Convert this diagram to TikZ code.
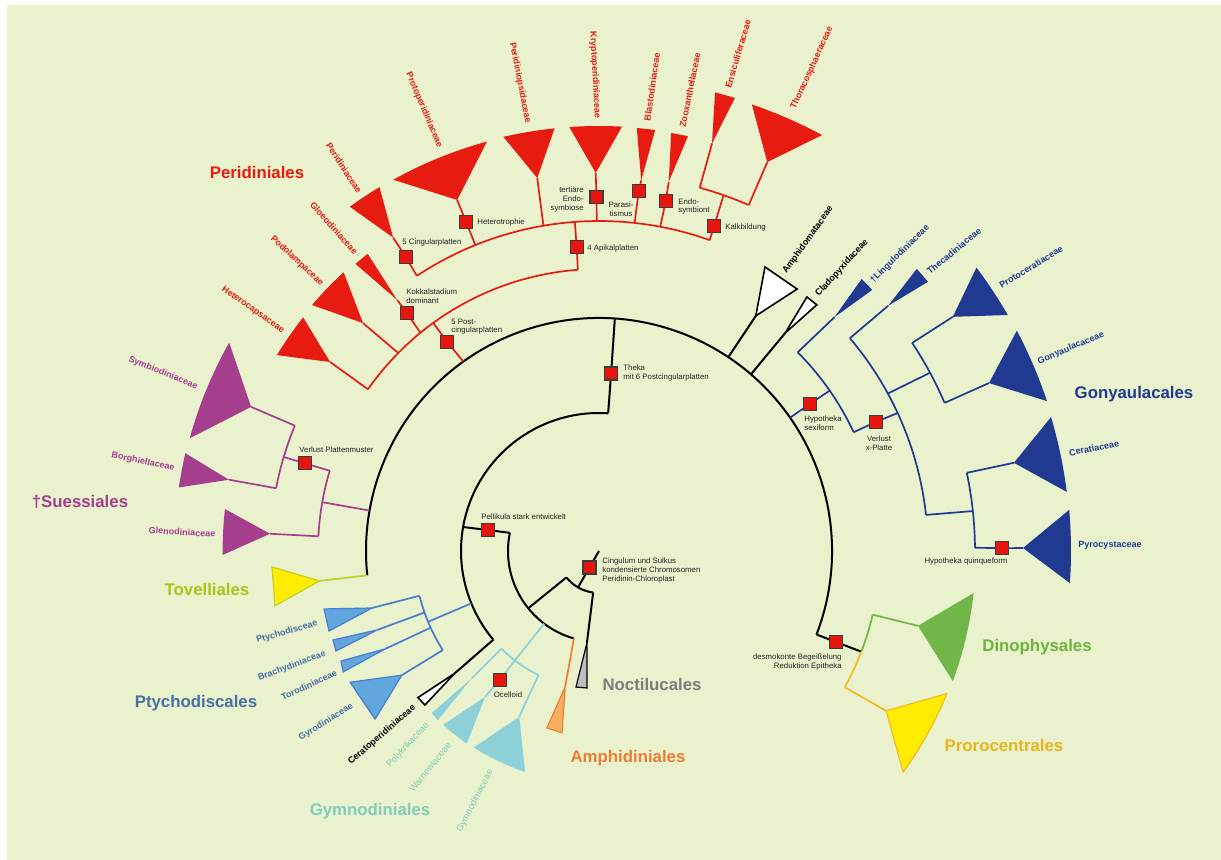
\documentclass[tikz,border=0pt]{standalone}
\usepackage{fontspec}
\setmainfont{Liberation Sans}

\definecolor{bgcol}{RGB}{233,241,205}
\definecolor{peri}{RGB}{231,27,16}
\definecolor{suess}{RGB}{166,62,142}
\definecolor{tovfill}{RGB}{255,236,0}
\definecolor{tovline}{RGB}{192,208,40}
\definecolor{tovtext}{RGB}{168,198,25}
\definecolor{ptyfill}{RGB}{97,167,222}
\definecolor{ptyline}{RGB}{72,124,205}
\definecolor{ptytext}{RGB}{72,112,165}
\definecolor{gymfill}{RGB}{141,208,216}
\definecolor{gymtext}{RGB}{128,205,185}
\definecolor{amphfill}{RGB}{247,176,96}
\definecolor{amphline}{RGB}{240,125,50}
\definecolor{amphtext}{RGB}{236,125,50}
\definecolor{noctfill}{RGB}{190,190,190}
\definecolor{nocttext}{RGB}{125,125,125}
\definecolor{gony}{RGB}{33,58,145}
\definecolor{dinofill}{RGB}{112,182,72}
\definecolor{dinotext}{RGB}{110,180,60}
\definecolor{prorofill}{RGB}{255,236,0}
\definecolor{proroline}{RGB}{245,186,30}
\definecolor{prorotext}{RGB}{230,182,30}
\definecolor{apored}{RGB}{230,22,15}
\definecolor{apoline}{RGB}{60,60,60}
\definecolor{notetext}{RGB}{35,35,35}

\newcommand{\notesize}{\fontsize{3.9}{4.3}\selectfont}
\newcommand{\famsize}{\fontsize{4.5}{5.4}\selectfont\bfseries}
\newcommand{\famlight}{\fontsize{4.6}{5.4}\selectfont}
\newcommand{\ordsize}{\fontsize{8.4}{10}\selectfont\bfseries}

\tikzset{
  stem/.style={line width=1pt, black, line join=round},
  twig/.style={line width=0.85pt, line join=round},
  apobox/.style={draw=apoline, fill=apored, line width=0.6pt, minimum size=6.5pt, inner sep=0pt},
  note/.style={font=\notesize, text=notetext, inner sep=0pt, align=left},
  fam/.style={font=\famsize, inner sep=0pt},
  famthin/.style={font=\famlight, inner sep=0pt},
  ordlabel/.style={font=\ordsize, inner sep=0pt}
}

\begin{document}
\begin{tikzpicture}[x=0.5pt,y=0.5pt]
\useasboundingbox (0,0) rectangle (1221,-860);
\fill[bgcol] (7,-5) rectangle (1221,-860);

\begin{scope}[shift={(599,-551)}]
% apomorphy positions
\coordinate (root) at (0,0);
\coordinate (cCing) at (240:19);
\coordinate (cPel) at (169.3:113);
\coordinate (cThek) at (86.1:178);
\coordinate (cOcel) at (232.5:162.6);
\coordinate (cVpm) at (163.4:307);
\coordinate (cPost) at (126:258);
\coordinate (cKok) at (128.9:306);
\coordinate (cApi) at (94.2:305);
\coordinate (cCingP) at (123.3:352);
\coordinate (cHet) at (112:355);
\coordinate (cTer) at (90.4:354);
\coordinate (cPar) at (83.7:362);
\coordinate (cEnd) at (79.2:356.5);
\coordinate (cKalk) at (70.5:345);
\coordinate (cSexi) at (34.9:257);
\coordinate (cXpl) at (25:305.6);
\coordinate (cQuin) at (0.4:403);
\coordinate (cDes) at (-21:254);

% black backbone
\draw[stem] (root) -- (cCing) -- (240:42);
\draw[stem] (219:42) arc[start angle=219,end angle=262,radius=42];
\draw[stem] (219:42) -- (219:91);
\draw[stem] (168.5:91) arc[start angle=168.5,end angle=254,radius=91];
\draw[stem] (168.5:91) -- (cPel) -- (170:138);
\draw[stem] (86.2:138) arc[start angle=86.2,end angle=220,radius=138];
\draw[stem] (86.2:138) -- (cThek) -- (86.1:233);
\draw[stem] (-21:233) arc[start angle=-21,end angle=186,radius=233];

% Noctilucales
\draw[stem] (262:42) -- (262.5:92.5);
\filldraw[fill=noctfill, draw=black, line width=0.6pt] (262.5:92.5) -- (260.4:138) -- (265:137.5) -- cycle;

% Ceratoperidiniaceae
\draw[stem] (220:138) -- (220.3:189);
\filldraw[fill=white, draw=black, line width=0.8pt] (220.3:189) -- (219:233) -- (221.5:232.4) -- cycle;

% Amphidiniales
\draw[twig, amphline] (254:91) -- (256:140);
\filldraw[fill=amphfill, draw=amphline, line width=0.6pt] (256:140) -- (253.6:184.5) -- (258.5:185.5) -- cycle;

% Gymnodiniales
\draw[twig, gymfill] (233:91) -- (232.4:138);
\draw[twig, gymfill] (225:138) arc[start angle=225,end angle=244,radius=138];
\draw[twig, gymfill] (225:138) -- (225:180);
\fill[gymfill] (225:180) -- (224.1:233) -- (226.4:233.4) -- cycle;
\draw[twig, gymfill] (232.4:138) -- (cOcel) -- (232:185);
\fill[gymfill] (232:185) -- (228.1:233.5) arc[start angle=228.1,end angle=235.5,radius=233.5] -- cycle;
\draw[twig, gymfill] (244:138) -- (244.3:184);
\fill[gymfill] (244.3:184) -- (237.5:233) arc[start angle=237.5,end angle=251.5,radius=233] -- cycle;

% Ptychodiscales
\draw[twig, ptyline] (202.3:138) -- (202.5:185);
\draw[twig, ptyline] (194:185) arc[start angle=194,end angle=212.4,radius=185];
\draw[twig, ptyline] (194:185) -- (194.1:234);
\draw[twig, ptyline] (199.4:185) -- (199.6:235);
\draw[twig, ptyline] (204.5:185) -- (204.6:235);
\draw[twig, ptyline] (212.4:185) -- (212.2:233);
\filldraw[fill=ptyfill, draw=ptyline, line width=0.6pt] (194.1:234) -- (191.9:281) -- (196.5:281.6) -- cycle;
\filldraw[fill=ptyfill, draw=ptyline, line width=0.6pt] (199.6:235) -- (198.5:280.5) -- (200.8:281.4) -- cycle;
\filldraw[fill=ptyfill, draw=ptyline, line width=0.6pt] (204.6:235) -- (203.1:280.5) -- (205.3:283) -- cycle;
\filldraw[fill=ptyfill, draw=ptyline, line width=0.6pt] (212.2:233) -- (207.8:281.4) -- (216.9:280) -- cycle;

% Tovelliales
\draw[twig, tovline] (186:233) -- (186.1:281);
\filldraw[fill=tovfill, draw=tovline, line width=0.6pt] (186.1:281) -- (182.8:327.4) -- (189.6:328.6) -- cycle;

% Suessiales
\draw[twig, suess] (170:233) -- (170:281);
\draw[twig, suess] (163.4:281) arc[start angle=163.4,end angle=177,radius=281];
\draw[twig, suess] (177:281) -- (177:329.4);
\fill[suess] (177:329.4) -- (173.6:376.4) arc[start angle=173.6,end angle=180.6,radius=376.4] -- cycle;
\draw[twig, suess] (163.4:281) -- (cVpm) -- (163.4:329);
\draw[twig, suess] (157.6:329) arc[start angle=157.6,end angle=169,radius=329];
\draw[twig, suess] (157.6:329) -- (157.5:376.6);
\fill[suess] (157.5:376.6) -- (150.6:424.5) arc[start angle=150.6,end angle=164.6,radius=424.5] -- cycle;
\draw[twig, suess] (169:329) -- (169.1:376.8);
\fill[suess] (169.1:376.8) -- (166.7:425) arc[start angle=166.7,end angle=171.4,radius=425] -- cycle;

% Peridiniales
\draw[twig, peri] (125.6:233) -- (cPost) -- (126:282);
\draw[twig, peri] (94.3:282) arc[start angle=94.3,end angle=145,radius=282];
\draw[twig, peri] (145:282) -- (144.9:328.7);
\fill[peri] (144.9:328.7) -- (141.7:377) arc[start angle=141.7,end angle=148.7,radius=377] -- cycle;
\draw[twig, peri] (135.4:282) -- (136:328);
\fill[peri] (136:328) -- (132.5:378) arc[start angle=132.5,end angle=139.4,radius=378] -- cycle;
\draw[twig, peri] (129.3:282) -- (cKok) -- (128.8:322);
\fill[peri] (128.8:322) -- (127.9:376.5) arc[start angle=127.9,end angle=130.3,radius=376.5] -- cycle;
\draw[twig, peri] (94.3:282) -- (cApi) -- (94.2:330);
\draw[twig, peri] (70.4:330) arc[start angle=70.4,end angle=123.5,radius=330];
\draw[twig, peri] (123.5:330) -- (cCingP) -- (123.3:375);
\fill[peri] (123.3:375) -- (121.1:425) arc[start angle=121.1,end angle=125.9,radius=425] -- cycle;
\draw[twig, peri] (112:330) -- (cHet) -- (112:378.6);
\fill[peri] (112:378.6) -- (105.3:424.5) arc[start angle=105.3,end angle=119,radius=424.5] -- cycle;
\draw[twig, peri] (99.7:330) -- (99.4:378);
\fill[peri] (99.4:378) -- (96:425) arc[start angle=96,end angle=103,radius=425] -- cycle;
\draw[twig, peri] (90.4:330) -- (cTer) -- (90.5:378);
\fill[peri] (90.5:378) -- (86.9:425) arc[start angle=86.9,end angle=94,radius=425] -- cycle;
\draw[twig, peri] (83.8:330) -- (cPar) -- (83.5:373);
\fill[peri] (83.5:373) -- (82.4:424.7) arc[start angle=82.4,end angle=84.9,radius=424.7] -- cycle;
\draw[twig, peri] (79.3:330) -- (cEnd) -- (79.3:375.6);
\fill[peri] (79.3:375.6) -- (77.9:424.2) arc[start angle=77.9,end angle=80.2,radius=424.2] -- cycle;
\draw[twig, peri] (70.4:330) -- (cKalk) -- (70.7:377);
\draw[twig, peri] (66.6:377) arc[start angle=66.6,end angle=74.5,radius=377];
\draw[twig, peri] (74.5:377) -- (74.5:423);
\fill[peri] (74.5:423) -- (73.3:473) arc[start angle=73.3,end angle=75.8,radius=473] -- cycle;
\draw[twig, peri] (66.6:377) -- (66.6:423.7);
\fill[peri] (66.6:423.7) -- (61.8:472) arc[start angle=61.8,end angle=71.1,radius=472] -- cycle;

% Amphidomataceae, Cladopyxidaceae
\draw[stem] (56.3:233) -- (56.3:282.6);
\filldraw[fill=white, draw=black, line width=0.8pt] (56.3:282.6) -- (59.7:329) -- (52.9:328.4) -- cycle;
\draw[stem] (49.3:233) -- (49.5:286.6);
\filldraw[fill=white, draw=black, line width=0.8pt] (49.5:286.6) -- (50.7:328.3) -- (48.5:328.7) -- cycle;

% Gonyaulacales
\draw[twig, gony] (34.9:233) -- (cSexi) -- (34.8:281);
\draw[twig, gony] (25:281) arc[start angle=25,end angle=45,radius=281];
\draw[twig, gony] (45:281) -- (44.8:332);
\fill[gony] (44.8:332) -- (43.7:378) arc[start angle=43.7,end angle=46,radius=378] -- cycle;
\draw[twig, gony] (25:281) -- (cXpl) -- (24.8:329);
\draw[twig, gony] (6.3:329) arc[start angle=6.3,end angle=40.3,radius=329];
\draw[twig, gony] (40.3:329) -- (40.3:379);
\fill[gony] (40.3:379) -- (39.3:425) arc[start angle=39.3,end angle=41.6,radius=425] -- cycle;
\draw[twig, gony] (28.6:329) -- (28.3:376);
\draw[twig, gony] (23.2:376) arc[start angle=23.2,end angle=33.6,radius=376];
\draw[twig, gony] (33.6:376) -- (33.5:424.3);
\fill[gony] (33.5:424.3) -- (30:472) arc[start angle=30,end angle=36.9,radius=472] -- cycle;
\draw[twig, gony] (23.2:376) -- (23.3:424.6);
\fill[gony] (23.3:424.6) -- (18.5:472.4) arc[start angle=18.5,end angle=27.8,radius=472.4] -- cycle;
\draw[twig, gony] (6.3:329) -- (6.1:376);
\draw[twig, gony] (0.5:376) arc[start angle=0.5,end angle=12,radius=376];
\draw[twig, gony] (12:376) -- (12:424.2);
\fill[gony] (12:424.2) -- (7.2:471.5) arc[start angle=7.2,end angle=16.5,radius=471.5] -- cycle;
\draw[twig, gony] (0.5:376) -- (cQuin) -- (0.4:424);
\fill[gony] (0.4:424) -- (-3.9:472) arc[start angle=-3.9,end angle=5,radius=472] -- cycle;

% Dinophysales, Prorocentrales
\draw[stem] (-21:233) -- (cDes) -- (-21:281);
\draw[twig, dinofill] (-21:281) arc[start angle=-21,end angle=-13.1,radius=281];
\draw[twig, proroline] (-29:281) arc[start angle=-29,end angle=-21,radius=281];
\draw[twig, dinofill] (-13.1:281) -- (-13.2:327.7);
\fill[dinofill] (-13.2:327.7) -- (-20.2:377) arc[start angle=-20.2,end angle=-6.4,radius=377] -- cycle;
\draw[twig, proroline] (-29:281) -- (-29.1:328.6);
\filldraw[fill=prorofill, draw=proroline, line width=0.6pt] (-29.1:328.6) -- (-36:376) arc[start angle=-36,end angle=-22.3,radius=376] -- cycle;

% apomorphy boxes
\node[apobox] (aCing) at (cCing) {};
\node[apobox] (aPel) at (cPel) {};
\node[apobox] (aThek) at (cThek) {};
\node[apobox] (aOcel) at (cOcel) {};
\node[apobox] (aVpm) at (cVpm) {};
\node[apobox] (aPost) at (cPost) {};
\node[apobox] (aKok) at (cKok) {};
\node[apobox] (aApi) at (cApi) {};
\node[apobox] (aCingP) at (cCingP) {};
\node[apobox] (aHet) at (cHet) {};
\node[apobox] (aTer) at (cTer) {};
\node[apobox] (aPar) at (cPar) {};
\node[apobox] (aEnd) at (cEnd) {};
\node[apobox] (aKalk) at (cKalk) {};
\node[apobox] (aSexi) at (cSexi) {};
\node[apobox] (aXpl) at (cXpl) {};
\node[apobox] (aQuin) at (cQuin) {};
\node[apobox] (aDes) at (cDes) {};
\end{scope}

% apomorphy notes
\node[note, anchor=west] (nCing) at (602,-570.5) {Cingulum und Sulkus\\kondensierte Chromosomen\\Peridinin-Chloroplast};
\node[note, anchor=west] (nPel) at (481,-517) {Pellikula stark entwickelt};
\node[note, anchor=west] (nThek) at (623,-373) {Theka\\mit 6 Postcingularplatten};
\node[note, align=center] (nOcel) at (508,-695) {Ocelloid};
\node[note, anchor=west] (nVpm) at (299,-450) {Verlust Plattenmuster};
\node[note, anchor=west] (nPost) at (451,-326.5) {5 Post-\\cingularplatten};
\node[note, anchor=west] (nKok) at (406,-296.5) {Kokkalstadium\\dominant};
\node[note, anchor=west] (nApi) at (587,-248) {4 Apikalplatten};
\node[note, anchor=west] (nCingP) at (402,-242) {5 Cingularplatten};
\node[note, anchor=west] (nHet) at (477,-222) {Heterotrophie};
\node[note, anchor=east, align=right] (nTer) at (584,-199.5) {tertiäre\\Endo-\\symbiose};
\node[note, align=center] (nPar) at (621,-209) {Parasi-\\tismus};
\node[note, anchor=west] (nEnd) at (678,-206.5) {Endo-\\symbiont};
\node[note, anchor=west] (nKalk) at (725,-227) {Kalkbildung};
\node[note, anchor=west] (nSexi) at (804,-423.5) {Hypotheka\\sexiform};
\node[note, align=center] (nXpl) at (879,-443) {Verlust\\x-Platte};
\node[note, align=center] (nQuin) at (966,-561) {Hypotheka quinqueform};
\node[note, anchor=east, align=right] (nDes) at (842,-662) {desmokonte Begeißelung\\Reduktion Epitheka};

% family labels
\node[fam, text=peri, rotate=-57] (fPeridin) at (344,-168) {Peridiniaceae};
\node[fam, text=peri, rotate=-48.6] (fGloeo) at (334,-228) {Gloeodiniaceae};
\node[fam, text=peri, rotate=-43] (fPodo) at (297,-261) {Podolampaceae};
\node[fam, text=peri, rotate=-35] (fHetero) at (253,-310) {Heterocapsaceae};
\node[fam, text=peri, rotate=-67] (fProto) at (424,-110) {Protoperidiniaceae};
\node[fam, text=peri, rotate=-79] (fPeriops) at (520,-83) {Peridiniopsidaceae};
\node[fam, text=peri, rotate=-87] (fKrypto) at (595,-75) {Kryptoperidiniaceae};
\node[fam, text=peri, rotate=82] (fBlasto) at (652,-87) {Blastodiniaceae};
\node[fam, text=peri, rotate=78.5] (fZoox) at (690,-90) {Zooxanthellaceae};
\node[fam, text=peri, rotate=73.6] (fEnsi) at (738,-54) {Ensiculiferaceae};
\node[fam, text=peri, rotate=65.5] (fThora) at (812,-68) {Thoracosphaeraceae};
\node[fam, text=suess, rotate=-22] (fSymbio) at (163,-373) {Symbiodiniaceae};
\node[fam, text=suess, rotate=-12] (fBorg) at (143,-462) {Borghiellaceae};
\node[fam, text=suess, rotate=-3.5] (fGleno) at (182,-532) {Glenodiniaceae};
\node[fam, text=ptytext, rotate=16] (fPtycho) at (287,-632) {Ptychodisceae};
\node[fam, text=ptytext, rotate=20.7] (fBrachy) at (292,-666) {Brachydiniaceae};
\node[fam, text=ptytext, rotate=25] (fToro) at (309,-685) {Torodiniaceae};
\node[fam, text=ptytext, rotate=32] (fGyro) at (326,-722) {Gyrodiniaceae};
\node[fam, text=black, rotate=41] (fCerato) at (382,-735) {Ceratoperidiniaceae};
\node[famthin, text=gymtext, rotate=47] (fPoly) at (408,-745) {Polykrikaceae};
\node[famthin, text=gymtext, rotate=51] (fWarno) at (430,-767) {Warnowiaceae};
\node[famthin, text=gymtext, rotate=62.7] (fGymno) at (475,-801) {Gymnodiniaceae};
\node[fam, text=black, rotate=54.5] (fAmphido) at (808,-240) {Amphidomataceae};
\node[fam, text=black, rotate=47.7] (fClado) at (842,-268) {Cladopyxidaceae};
\node[fam, text=gony, rotate=44.5] (fLingu) at (900,-254) {†Lingulodiniaceae};
\node[fam, text=gony, rotate=39.6] (fTheca) at (954,-251) {Thecadiniaceae};
\node[fam, text=gony, rotate=31.8] (fProtoc) at (1031,-267) {Protoceratiaceae};
\node[fam, text=gony, rotate=23] (fGonyau) at (1071,-348) {Gonyaulacaceae};
\node[fam, text=gony, rotate=11.5] (fCerat) at (1094,-448) {Ceratiaceae};
\node[fam, text=gony, rotate=0] (fPyro) at (1110,-545) {Pyrocystaceae};

% order labels
\node[ordlabel, text=peri] (oPeri) at (257,-173) {Peridiniales};
\node[ordlabel, text=suess] (oSuess) at (80,-502) {†Suessiales};
\node[ordlabel, text=tovtext] (oTov) at (207,-589) {Tovelliales};
\node[ordlabel, text=ptytext] (oPty) at (196,-703) {Ptychodiscales};
\node[ordlabel, text=gymtext] (oGym) at (370,-811) {Gymnodiniales};
\node[ordlabel, text=amphtext] (oAmph) at (628,-758) {Amphidiniales};
\node[ordlabel, text=nocttext] (oNoct) at (652,-684) {Noctilucales};
\node[ordlabel, text=gony] (oGony) at (1134,-394) {Gonyaulacales};
\node[ordlabel, text=dinotext] (oDino) at (1037,-647) {Dinophysales};
\node[ordlabel, text=prorotext] (oProro) at (1004,-745) {Prorocentrales};
\end{tikzpicture}
\end{document}
